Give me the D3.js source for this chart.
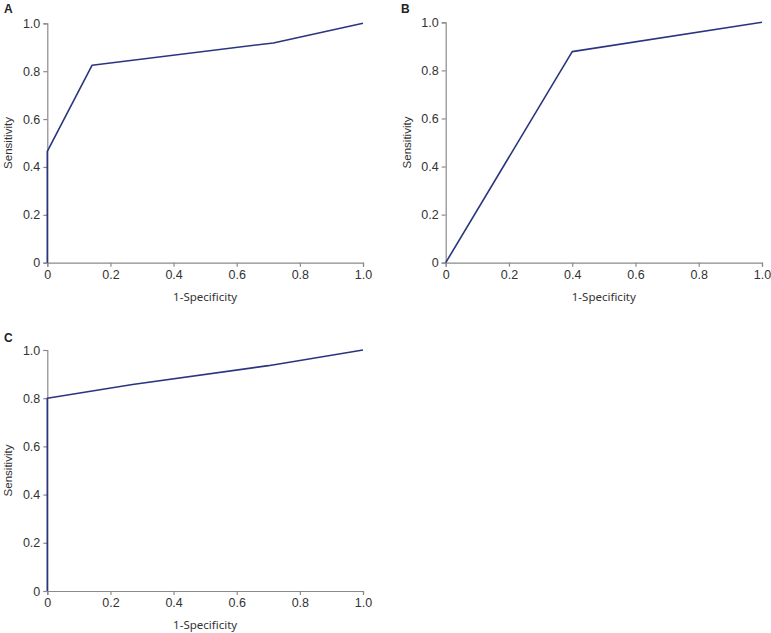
<!DOCTYPE html>
<html><head><meta charset="utf-8">
<script src="https://cdn.jsdelivr.net/npm/d3@7/dist/d3.min.js"></script>
<style>body{margin:0;background:#fff}svg{display:block}</style>
</head><body>
<svg id="c" width="771" height="633"></svg>
<script>
const ticks = [0, 0.2, 0.4, 0.6, 0.8, 1.0];
const tickLabels = ["0", "0.2", "0.4", "0.6", "0.8", "1.0"];
const panelLabels = ["A", "B", "C"];
const fprA = [0, 0, 0.142, 0.716, 1];
const tprA = [0, 0.465, 0.825, 0.918, 1];
const fprB = [0, 0.40, 1];
const tprB = [0, 0.878, 1];
const fprC = [0, 0, 0.27, 0.70, 1];
const tprC = [0, 0.80, 0.857, 0.935, 1];
const xTitle = "1-Specificity";
const yTitle = "Sensitivity";

const panels = [
  {label: panelLabels[0], fpr: fprA, tpr: tprA, x0: 47.3, x1: 363, y0: 262.7, y1: 23.3, lx: 4, ly: 13},
  {label: panelLabels[1], fpr: fprB, tpr: tprB, x0: 445.7, x1: 762, y0: 262.7, y1: 22.3, lx: 401, ly: 13},
  {label: panelLabels[2], fpr: fprC, tpr: tprC, x0: 47.3, x1: 363, y0: 591, y1: 350, lx: 4, ly: 342}
];

const svg = d3.select("#c");
const axisColor = "#8a8a8a";
const lineColor = "#2b3480";

panels.forEach(p => {
  const x = d3.scaleLinear().domain([0, 1]).range([p.x0, p.x1]);
  const y = d3.scaleLinear().domain([0, 1]).range([p.y0, p.y1]);
  const g = svg.append("g");

  const xa = g.append("g").attr("transform", `translate(0,${p.y0})`)
    .call(d3.axisBottom(x).tickValues(ticks).tickFormat((d, i) => tickLabels[i]).tickSizeOuter(0).tickSize(4).tickPadding(3));
  const ya = g.append("g").attr("transform", `translate(${p.x0},0)`)
    .call(d3.axisLeft(y).tickValues(ticks).tickFormat((d, i) => tickLabels[i]).tickSizeOuter(0).tickSize(4).tickPadding(3));
  [xa, ya].forEach(a => {
    a.select(".domain").attr("stroke", axisColor).attr("stroke-width", 1.2);
    a.selectAll(".tick line").attr("stroke", axisColor).attr("stroke-width", 1.2);
    a.selectAll("text").attr("fill", "#333").attr("font-family", "Liberation Sans, Arial, sans-serif").attr("font-size", 12.5);
  });

  g.append("text").attr("x", (p.x0 + p.x1) / 2).attr("y", p.y0 + 38)
    .attr("text-anchor", "middle").attr("font-family", "Noto Sans, sans-serif").attr("font-size", 11.5).attr("fill", "#333")
    .text(xTitle);
  g.append("text").attr("transform", `translate(${p.x0 - 35},${(p.y0 + p.y1) / 2}) rotate(-90)`)
    .attr("text-anchor", "middle").attr("font-family", "Liberation Sans, Arial, sans-serif").attr("font-size", 11.5).attr("fill", "#333")
    .text(yTitle);
  g.append("text").attr("x", p.lx).attr("y", p.ly)
    .attr("font-family", "Liberation Sans, Arial, sans-serif").attr("font-weight", "bold").attr("font-size", 12).attr("fill", "#222")
    .text(p.label);

  const pts = p.fpr.map((v, i) => [v, p.tpr[i]]);
  g.append("path").datum(pts)
    .attr("d", d3.line().x(d => x(d[0])).y(d => y(d[1])))
    .attr("fill", "none").attr("stroke", lineColor).attr("stroke-width", 1.6).attr("stroke-linejoin", "round");
});
</script>
</body></html>
